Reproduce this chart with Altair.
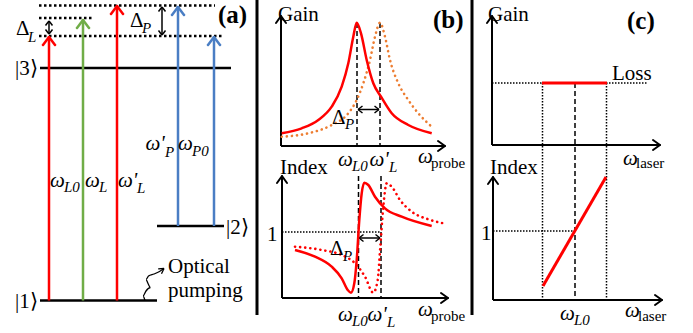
import math
import altair as alt
import pandas as pd

W, H = 693, 333
FONT = "Liberation Serif"

# ---------------- Panel (a): energy-level diagram ----------------
LEVEL_NAMES = ["|1⟩", "|2⟩", "|3⟩"]
LEVEL_Y = [300.5, 226, 68]
LEVEL_X0 = [40, 157, 40]
LEVEL_X1 = [157, 224, 231]

VIRT_Y = [5.5, 18, 36]            # dotted virtual levels
VIRT_X0 = [39, 39, 39]
VIRT_X1 = [215, 94, 222]

TRANS_NAMES = ["ωL0", "ωL", "ω'L", "ω'P", "ωP0"]
TRANS_KIND = ["laser", "tuned", "laser", "probe", "probe"]
TRANS_X = [49, 83, 117, 178, 214]
TRANS_FROM = [300.5, 300.5, 300.5, 226, 226]
TRANS_TO = [37, 20, 6, 7, 37]

DELTA_X = [49, 162]               # ΔL, ΔP double arrows (vertical)
DELTA_Y0 = [21, 7]
DELTA_Y1 = [34, 35]

PUMP_X = [145, 143, 146, 150.5, 148, 146, 148.5, 154, 159.5, 164]
PUMP_Y = [300.5, 296, 291, 287.5, 283.5, 279.5, 276, 274, 271.5, 268.5]

DIVIDER_X = [257, 472]
DIVIDER_Y = [0, 315]

# ---------------- Panel (b): gain and index vs probe ----------------
GAIN_X = [281.7, 301.7, 318.3, 331.7, 341.7, 348.3, 353.3, 356.7, 361, 366.7, 373.3, 381, 391.7, 408.3, 431.7]
GAIN_Y = [133.3, 128.3, 120, 106.7, 86.7, 63.3, 36.7, 22.7, 33.3, 60, 83.3, 96.7, 113.3, 125, 133.3]
GAIN2_X = [281.7, 308.3, 331.7, 348.3, 356.7, 363.3, 370, 375, 380, 385, 390, 398.3, 408.3, 418.3, 431.7]
GAIN2_Y = [136.7, 133.3, 125, 113.3, 100, 83.3, 60, 36.7, 22.7, 36.7, 60, 83.3, 100, 113.3, 126.7]

INDEX_X = [295, 315, 331.7, 341.7, 347.7, 351, 354.3, 356.7, 359.3, 361.7, 364.3, 368.3, 375, 385, 401.7, 431.7]
INDEX_Y = [250, 256.7, 266.7, 278.3, 290, 292.7, 283.3, 260, 220, 193.3, 182.7, 185, 196.7, 208.3, 216.7, 226]
INDEX2_X = [295, 321.7, 341.7, 355, 365, 373.3, 377.7, 380.3, 383.3, 386.7, 391.7, 400, 411.7, 428.3, 443.3]
INDEX2_Y = [246.7, 250, 255, 263.3, 276.7, 292.7, 280, 246.7, 206.7, 183.3, 186.7, 200, 211.7, 219.3, 223.3]

# axes: origin -> tip, as separate arrays
AXIS_X0 = [281, 281, 282, 282, 492, 492, 493, 493]
AXIS_Y0 = [146, 146, 298, 298, 145, 145, 300, 300]
AXIS_X1 = [281, 445, 282, 448, 492, 660, 493, 662]
AXIS_Y1 = [16, 146, 176, 298, 16, 145, 177, 300]

DASH_X = [357, 380, 358.5, 381, 575]
DASH_Y0 = [23, 23, 176, 176, 83]
DASH_Y1 = [145, 145, 298, 298, 300]

DP_Y = [109.5, 238]               # ΔP horizontal double arrows in (b)
DP_X0 = [358, 359]
DP_X1 = [379, 380]

# ---------------- Panel (c): gain/index vs laser ----------------
DOT_X0 = [282, 492, 542.5, 606.5, 493]
DOT_Y0 = [232, 83, 83, 83, 231]
DOT_X1 = [381, 647, 542.5, 606.5, 575]
DOT_Y1 = [232, 83, 300, 300, 231]

LOSS_X = [542, 607]
LOSS_Y = [83, 83]
LIN_X = [543, 606]
LIN_Y = [286, 177]

# ---------------- Text ----------------
T_NORMAL = ["|3⟩", "|1⟩", "|2⟩", "Optical", "pumping", "Gain", "Index", "1",
            "Gain", "Index", "1", "Loss", "Δ", "Δ", "Δ", "Δ"]
T_NORMAL_X = [15, 15, 226, 168, 168, 278, 280, 267, 488, 490, 481, 612, 16, 130, 332, 330]
T_NORMAL_Y = [75, 308, 234, 273, 297, 21, 174, 241, 21, 174, 240, 80, 35, 27, 124, 255]

T_OMEGA = ["ω", "ω", "ω'", "ω'", "ω", "ω", "ω'", "ω", "ω", "ω'", "ω", "ω", "ω", "ω"]
T_OMEGA_X = [50, 85, 118, 145.5, 178, 338, 369.5, 418, 338, 367.5, 418, 623, 625, 560]
T_OMEGA_Y = [187, 187, 187, 150, 150, 166, 166, 163, 321, 321, 316, 165, 317, 320]

T_SUBI = ["L", "P", "P", "P", "L0", "L", "L", "P", "P0", "L0", "L", "L0", "L", "L0"]
T_SUBI_X = [28, 142, 345, 343, 64, 99, 137, 165, 192, 352, 389, 352, 387, 574]
T_SUBI_Y = [42, 33, 129, 261, 192, 192, 193, 157, 156, 171, 172, 326, 327, 325]

T_SUBN = ["probe", "probe", "laser", "laser"]
T_SUBN_X = [431, 431, 636, 638]
T_SUBN_Y = [168, 321, 168, 321]

T_BOLD = ["(a)", "(b)", "(c)"]
T_BOLD_X = [218, 433, 627]
T_BOLD_Y = [23, 28, 29]

# ---------------- helpers ----------------
XS = alt.Scale(domain=[0, W], nice=False, zero=False)
YS = alt.Scale(domain=[0, H], nice=False, zero=False, reverse=True)


def X(f="x"):
    return alt.X(f"{f}:Q", scale=XS, axis=None)


def Y(f="y"):
    return alt.Y(f"{f}:Q", scale=YS, axis=None)


def seg_df(x0, y0, x1, y1, kind=None):
    d = pd.DataFrame({"x": x0, "y": y0, "x2": x1, "y2": y1})
    if kind is not None:
        d["kind"] = kind
    return d


def heads(tx, ty, dx, dy, L, Wd, kind=None):
    rows = []
    for i in range(len(tx)):
        n = math.hypot(dx[i], dy[i])
        ux, uy = dx[i] / n, dy[i] / n
        px, py = -uy, ux
        bx, by = tx[i] - L * ux, ty[i] - L * uy
        for s in (1, -1):
            r = {"x": tx[i], "y": ty[i], "x2": bx + s * Wd * px, "y2": by + s * Wd * py}
            if kind is not None:
                r["kind"] = kind[i]
            rows.append(r)
    return pd.DataFrame(rows)


def rules(df, **mk):
    return alt.Chart(df).mark_rule(**mk).encode(x=X(), y=Y(), x2="x2:Q", y2="y2:Q")


def curve(xs, ys, **mk):
    d = pd.DataFrame({"x": xs, "y": ys, "i": range(len(xs))})
    return alt.Chart(d).mark_line(interpolate="monotone", **mk).encode(
        x=X(), y=Y(), order="i:Q")


def texts(t, xs, ys, size, style=None, weight=None):
    d = pd.DataFrame({"t": t, "x": xs, "y": ys})
    mk = dict(font=FONT, fontSize=size, align="left", baseline="alphabetic", color="black")
    if style:
        mk["fontStyle"] = style
    if weight:
        mk["fontWeight"] = weight
    return alt.Chart(d).mark_text(**mk).encode(x=X(), y=Y(), text="t:N")


KIND_SCALE = alt.Scale(domain=["laser", "tuned", "probe"],
                       range=["#ff0000", "#70ad47", "#4a7ec4"])

layers = []

# dividers
layers.append(rules(seg_df(DIVIDER_X, [DIVIDER_Y[0]] * 2, DIVIDER_X, [DIVIDER_Y[1]] * 2),
                    color="black", strokeWidth=3))
# levels
layers.append(rules(seg_df(LEVEL_X0, LEVEL_Y, LEVEL_X1, LEVEL_Y), color="black", strokeWidth=2.5))
# virtual levels
layers.append(rules(seg_df(VIRT_X0, VIRT_Y, VIRT_X1, VIRT_Y), color="black",
                    strokeWidth=2.5, strokeDash=[2.5, 2.5]))
# transitions
tr = seg_df(TRANS_X, TRANS_FROM, TRANS_X, TRANS_TO, TRANS_KIND)
layers.append(alt.Chart(tr).mark_rule(strokeWidth=2.5).encode(
    x=X(), y=Y(), x2="x2:Q", y2="y2:Q",
    color=alt.Color("kind:N", scale=KIND_SCALE, legend=None)))
th = heads(TRANS_X, TRANS_TO, [0] * 5, [-1] * 5, 8, 6, TRANS_KIND)
layers.append(alt.Chart(th).mark_rule(strokeWidth=2.5, strokeCap="round").encode(
    x=X(), y=Y(), x2="x2:Q", y2="y2:Q",
    color=alt.Color("kind:N", scale=KIND_SCALE, legend=None)))

# double arrows (a)
layers.append(rules(seg_df(DELTA_X, DELTA_Y0, DELTA_X, DELTA_Y1), color="black", strokeWidth=1.5))
layers.append(rules(heads(DELTA_X + DELTA_X, DELTA_Y0 + DELTA_Y1, [0] * 4, [-1, -1, 1, 1], 4.5, 3.5),
                    color="black", strokeWidth=1.5))
# double arrows (b)
layers.append(rules(seg_df(DP_X0, DP_Y, DP_X1, DP_Y), color="black", strokeWidth=1.5))
layers.append(rules(heads(DP_X0 + DP_X1, DP_Y + DP_Y, [-1, -1, 1, 1], [0] * 4, 4.5, 3.5),
                    color="black", strokeWidth=1.5))

# optical pumping squiggle
layers.append(curve(PUMP_X, PUMP_Y, color="black", strokeWidth=1.3))
layers.append(rules(heads([PUMP_X[-1]], [PUMP_Y[-1]], [PUMP_X[-1] - PUMP_X[-2]],
                          [PUMP_Y[-1] - PUMP_Y[-2]], 5, 3), color="black", strokeWidth=1.3))

# axes
layers.append(rules(seg_df(AXIS_X0, AXIS_Y0, AXIS_X1, AXIS_Y1), color="black", strokeWidth=2))
adx = [a - b for a, b in zip(AXIS_X1, AXIS_X0)]
ady = [a - b for a, b in zip(AXIS_Y1, AXIS_Y0)]
layers.append(rules(heads(AXIS_X1, AXIS_Y1, adx, ady, 7, 5), color="black",
                    strokeWidth=2, strokeCap="round"))

# dashed and dotted guides
layers.append(rules(seg_df(DASH_X, DASH_Y0, DASH_X, DASH_Y1), color="black",
                    strokeWidth=1.5, strokeDash=[5, 3]))
layers.append(rules(seg_df(DOT_X0, DOT_Y0, DOT_X1, DOT_Y1), color="black",
                    strokeWidth=1.5, strokeDash=[1.5, 1.5]))

# curves (b)
layers.append(curve(GAIN2_X, GAIN2_Y, color="#ed7d31", strokeWidth=2.6,
                    strokeDash=[0.1, 5], strokeCap="round"))
layers.append(curve(GAIN_X, GAIN_Y, color="#ff0000", strokeWidth=2.5))
layers.append(curve(INDEX2_X, INDEX2_Y, color="#ff0000", strokeWidth=2.6,
                    strokeDash=[0.1, 5], strokeCap="round"))
layers.append(curve(INDEX_X, INDEX_Y, color="#ff0000", strokeWidth=2.5))

# (c) red lines
layers.append(curve(LOSS_X, LOSS_Y, color="#ff0000", strokeWidth=3))
layers.append(curve(LIN_X, LIN_Y, color="#ff0000", strokeWidth=3))

# text
layers.append(texts(T_NORMAL, T_NORMAL_X, T_NORMAL_Y, 21))
layers.append(texts(T_OMEGA, T_OMEGA_X, T_OMEGA_Y, 21, style="italic"))
layers.append(texts(T_SUBI, T_SUBI_X, T_SUBI_Y, 15, style="italic"))
layers.append(texts(T_SUBN, T_SUBN_X, T_SUBN_Y, 15))
layers.append(texts(T_BOLD, T_BOLD_X, T_BOLD_Y, 25, weight="bold"))

chart = alt.layer(*layers).properties(
    width=W, height=H, padding=0, autosize=alt.AutoSizeParams(type="none"),
    background="white",
).configure_view(stroke=None)

chart.save("out.html", embed_options={"renderer": "svg", "actions": False})
